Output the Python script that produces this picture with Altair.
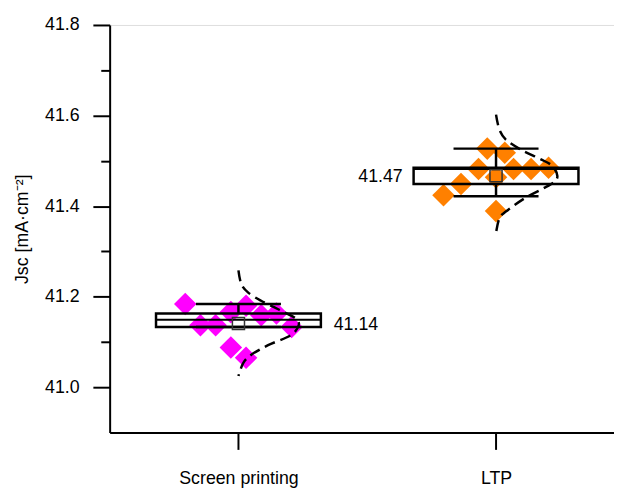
import altair as alt
import pandas as pd

# ---- data ----
categories = ["Screen printing", "LTP"]
positions = [1, 2]
colors = ["#FF00FF", "#FF8000"]

# individual cells (Jsc) and their beeswarm slot
sp_values = [41.184, 41.137, 41.137, 41.166, 41.180, 41.159, 41.163, 41.133, 41.088, 41.065]
sp_slots = [-3.5, -2.5, -1.5, -0.5, 0.5, 1.5, 2.5, 3.5, -0.5, 0.5]
ltp_values = [41.424, 41.449, 41.482, 41.527, 41.518, 41.482, 41.482, 41.485, 41.464, 41.389]
ltp_slots = [-3, -2, -1, -0.5, 0.5, 1, 2, 3, 0, 0]
slot_spacing = [0.059, 0.068]

# box statistics
box_lo = [41.133, 41.449]
box_hi = [41.163, 41.485]
medians = [41.149, 41.482]
whisk_lo = [41.133, 41.422]
whisk_hi = [41.184, 41.527]
means = [41.141, 41.467]

# distribution curves (value, width in x units)
sp_curve_y = [41.258, 41.228, 41.209, 41.191, 41.177, 41.166, 41.152, 41.137, 41.115, 41.093, 41.072, 41.054, 41.025]
sp_curve_w = [0, 0.011, 0.038, 0.088, 0.138, 0.176, 0.222, 0.234, 0.203, 0.115, 0.050, 0.019, 0]
ltp_curve_y = [41.602, 41.569, 41.547, 41.525, 41.504, 41.489, 41.467, 41.453, 41.438, 41.417, 41.388, 41.373, 41.341]
ltp_curve_w = [0, 0.013, 0.038, 0.096, 0.172, 0.218, 0.238, 0.225, 0.180, 0.110, 0.038, 0.013, 0]

y_ticks = [41.0, 41.1, 41.2, 41.3, 41.4, 41.5, 41.6, 41.7, 41.8]

# ---- tables ----
pts_rows = []
for cat, pos, vals, slots, sp in [
    (categories[0], positions[0], sp_values, sp_slots, slot_spacing[0]),
    (categories[1], positions[1], ltp_values, ltp_slots, slot_spacing[1]),
]:
    for v, s in zip(vals, slots):
        pts_rows.append({"cat": cat, "g": pos, "slot": s, "sp": sp, "v": v})
pts = pd.DataFrame(pts_rows)

stats = pd.DataFrame({
    "cat": categories, "g": positions, "lo": box_lo, "hi": box_hi,
    "med": medians, "wlo": whisk_lo, "whi": whisk_hi, "mean": means,
})

curve_rows = []
for cat, pos, ys, ws in [
    (categories[0], positions[0], sp_curve_y, sp_curve_w),
    (categories[1], positions[1], ltp_curve_y, ltp_curve_w),
]:
    for i, (yv, wv) in enumerate(zip(ys, ws)):
        curve_rows.append({"cat": cat, "g": pos, "i": i, "v": yv, "w": wv})
curves = pd.DataFrame(curve_rows)

FONT = "Liberation Sans"
BOX_HALF = 0.32
CAP_HALF = 0.165

xscale = alt.Scale(domain=[0.5, 2.458], nice=False, zero=False)
yscale = alt.Scale(domain=[40.9, 41.8], nice=False, zero=False)

x_axis = alt.Axis(
    values=positions, title=None, grid=False,
    labelExpr="datum.value == 1 ? 'Screen printing' : 'LTP'",
    tickSize=17, tickWidth=2, tickColor="black",
    domainColor="black", domainWidth=2,
    labelFont=FONT, labelFontSize=18, labelColor="black", labelPadding=21,
)
y_axis = alt.Axis(
    values=y_ticks, grid=False, title="Jsc [mA·cm⁻²]",
    labelExpr="abs(round(datum.value*10)) % 2 == 0 ? format(datum.value, '.1f') : ''",
    tickSize={"condition": {"test": "abs(round(datum.value*10)) % 2 == 0", "value": 17}, "value": 9},
    tickWidth=2, tickColor="black", domainColor="black", domainWidth=2,
    labelFont=FONT, labelFontSize=18, labelColor="black", labelPadding=14,
    titleFont=FONT, titleFontSize=18, titleFontWeight="normal", titleColor="black",
    titlePadding=13,
)

color = alt.Color("cat:N", scale=alt.Scale(domain=categories, range=colors), legend=None)

diamonds = alt.Chart(pts).transform_calculate(
    xp="datum.g + datum.slot * datum.sp"
).mark_point(shape="diamond", filled=True, size=520, opacity=1).encode(
    x=alt.X("xp:Q", scale=xscale, axis=x_axis),
    y=alt.Y("v:Q", scale=yscale, axis=y_axis),
    color=color,
)

box = alt.Chart(stats).transform_calculate(
    x1=f"datum.g - {BOX_HALF}", x2=f"datum.g + {BOX_HALF}"
).mark_rect(fill=None, fillOpacity=0, stroke="black", strokeWidth=2.5).encode(
    x=alt.X("x1:Q", scale=xscale), x2="x2:Q",
    y=alt.Y("lo:Q", scale=yscale), y2="hi:Q",
)

median = alt.Chart(stats).transform_calculate(
    x1=f"datum.g - {BOX_HALF}", x2=f"datum.g + {BOX_HALF}"
).mark_rule(color="black", strokeWidth=2).encode(
    x=alt.X("x1:Q", scale=xscale), x2="x2:Q",
    y=alt.Y("med:Q", scale=yscale),
)

whisk_up = alt.Chart(stats).mark_rule(color="black", strokeWidth=2.5).encode(
    x=alt.X("g:Q", scale=xscale), y=alt.Y("hi:Q", scale=yscale), y2="whi:Q",
)
whisk_dn = alt.Chart(stats).mark_rule(color="black", strokeWidth=2.5).encode(
    x=alt.X("g:Q", scale=xscale), y=alt.Y("wlo:Q", scale=yscale), y2="lo:Q",
)
cap_rows = stats.melt(id_vars=["cat", "g"], value_vars=["wlo", "whi"], value_name="cv")
caps = alt.Chart(cap_rows).transform_calculate(
    x1=f"datum.g - {CAP_HALF}", x2=f"datum.g + {CAP_HALF}"
).mark_rule(color="black", strokeWidth=2.5).encode(
    x=alt.X("x1:Q", scale=xscale), x2="x2:Q",
    y=alt.Y("cv:Q", scale=yscale),
)

mean_pt = alt.Chart(stats).mark_point(shape="square", filled=False, size=150, color="#333333", strokeWidth=1.5, opacity=1).encode(
    x=alt.X("g:Q", scale=xscale), y=alt.Y("mean:Q", scale=yscale),
)

lab_right = alt.Chart(stats).transform_filter("datum.g == 1").transform_calculate(
    xl=f"datum.g + {BOX_HALF}"
).mark_text(align="left", baseline="middle", dx=13, dy=2, font=FONT, fontSize=18, color="black").encode(
    x=alt.X("xl:Q", scale=xscale), y=alt.Y("mean:Q", scale=yscale),
    text=alt.Text("mean:Q", format=".2f"),
)
lab_left = alt.Chart(stats).transform_filter("datum.g == 2").transform_calculate(
    xl=f"datum.g - {BOX_HALF}"
).mark_text(align="right", baseline="middle", dx=-11, dy=1, font=FONT, fontSize=18, color="black").encode(
    x=alt.X("xl:Q", scale=xscale), y=alt.Y("mean:Q", scale=yscale),
    text=alt.Text("mean:Q", format=".2f"),
)

curve = alt.Chart(curves).transform_calculate(
    xc="datum.g + datum.w"
).mark_line(color="black", strokeWidth=2.5, strokeDash=[11, 6], interpolate="cardinal").encode(
    x=alt.X("xc:Q", scale=xscale), y=alt.Y("v:Q", scale=yscale),
    detail="cat:N", order="i:Q",
)

chart = alt.layer(
    diamonds, box, median, whisk_up, whisk_dn, caps, mean_pt, curve, lab_right, lab_left
).properties(
    width=511, height=413,
    autosize=alt.AutoSizeParams(type="none"),
    padding={"left": 103, "top": 14, "right": 0, "bottom": 58},
).configure_view(stroke=None).configure(background="white")

chart.save("out.html", embed_options={"renderer": "svg", "actions": False})
